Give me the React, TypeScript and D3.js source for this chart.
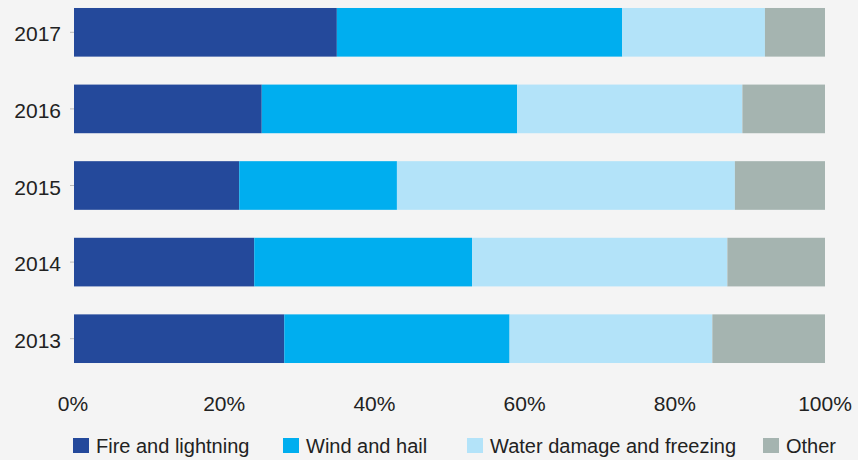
import React from "react";
import * as d3 from "d3";

const years = ["2017", "2016", "2015", "2014", "2013"];
const seriesNames = ["Fire and lightning", "Wind and hail", "Water damage and freezing", "Other"];
const fire = [35, 25, 22, 24, 28];
const wind = [38, 34, 21, 29, 30];
const water = [19, 30, 45, 34, 27];
const other = [8, 11, 12, 13, 15];
const xTicks = [0, 20, 40, 60, 80, 100];
const colors = ["#24499b", "#00aeef", "#b3e3f9", "#a5b4b0"];

const W = 858;
const H = 460;
const FONT = "'Liberation Sans', Arial, sans-serif";

export default function App() {
  const x = d3.scaleLinear().domain([0, 100]).range([74, 825]);
  const y = d3.scaleBand<string>().domain(years).range([-5.8, 376.8]).paddingInner(0.365).paddingOuter(0.18);
  const rows = years.map((yr, i) => ({ year: yr, s0: fire[i], s1: wind[i], s2: water[i], s3: other[i] }));
  const stack = d3.stack<any>().keys(["s0", "s1", "s2", "s3"]);
  const layers = stack(rows);
  const legendX = [73, 283, 467, 763];

  return (
    <svg width={W} height={H} style={{ position: "absolute", left: 0, top: 0, background: "#f4f4f4" }}>
      <rect x={0} y={0} width={W} height={H} fill="#f4f4f4" />
      {layers.map((layer, li) => (
        <g key={li} fill={colors[li]}>
          {layer.map((d, i) => (
            <rect key={i} x={x(d[0])} y={y(years[i])} width={x(d[1]) - x(d[0])} height={y.bandwidth()} />
          ))}
        </g>
      ))}
      {years.map((yr) => (
        <g key={yr}>
          <line x1={70} x2={74} y1={y(yr)! + y.bandwidth() / 2} y2={y(yr)! + y.bandwidth() / 2} stroke="#bbbbbb" />
          <text x={61} y={y(yr)! + y.bandwidth() / 2 + 9} textAnchor="end" fontFamily={FONT} fontSize={21} fill="#222">
            {yr}
          </text>
        </g>
      ))}
      {xTicks.map((t) => (
        <text key={t} x={x(t) - (t === 0 ? 1 : 0)} y={411} textAnchor="middle" fontFamily={FONT} fontSize={21} fill="#222">
          {t}%
        </text>
      ))}
      {seriesNames.map((n, i) => (
        <g key={n}>
          <rect x={legendX[i]} y={438} width={16} height={15} fill={colors[i]} />
          <text x={legendX[i] + 23} y={453} fontFamily={FONT} fontSize={20} fill="#222">
            {n}
          </text>
        </g>
      ))}
    </svg>
  );
}
